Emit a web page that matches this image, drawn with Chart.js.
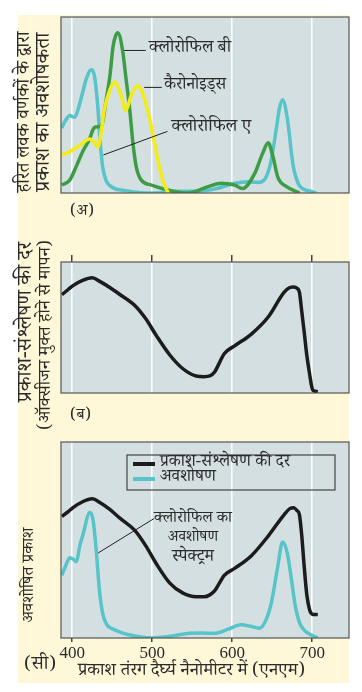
<!DOCTYPE html>
<html lang="hi">
<head>
<meta charset="utf-8">
<script src="https://cdn.jsdelivr.net/npm/chart.js@4.4.1/dist/chart.umd.min.js"></script>
<style>
  html, body { margin: 0; padding: 0; background: #fff; }
  #page { position: relative; width: 362px; height: 692px; overflow: hidden; }
  #paper { position: absolute; left: 18px; top: 15px; width: 331px; height: 668px; background: #fef8d8; }
  canvas { position: absolute; left: 0; }
</style>
</head>
<body>
<div id="page">
  <div id="paper"></div>
  <canvas id="chartA" width="362" height="230" style="top:0px"></canvas>
  <canvas id="chartB" width="362" height="200" style="top:230px"></canvas>
  <canvas id="chartC" width="362" height="262" style="top:430px"></canvas>
</div>
<script>
// wavelength ticks, nm
const tickNm = [400, 500, 600, 700];

// (अ) absorption by chloroplast pigments
const chlANm = [387, 392, 397, 403, 407, 413, 417, 424, 428, 432, 435, 438, 442, 451, 465, 480, 500, 530, 557, 580, 603, 620, 632, 641, 648, 655, 659, 663, 669, 676, 683, 690, 698, 705];
const chlAVal = [37, 41.5, 44, 43, 47, 57, 64, 70, 66, 49, 29, 15, 7.5, 3, 1.5, 0.5, 0, 1, 1, 2.5, 5.5, 6.4, 6, 8, 17, 36, 48, 53, 42, 16, 5, 2, 1, 0];

const chlBNm = [387, 397, 405, 413, 422, 426, 429, 436, 438, 442, 447, 451, 454, 457, 463, 467, 472, 476, 480, 486, 499, 520, 545, 570, 586, 603, 613, 628, 638, 645, 651, 657, 668, 684];
const chlBVal = [4.5, 7.4, 15, 23.5, 31, 36, 37.5, 38, 40, 51.6, 66, 83, 89, 91, 81, 66, 47, 28, 15, 7.5, 4.5, 1.7, 0, 3.6, 5.5, 4.5, 2.6, 11, 22.5, 28.5, 20.6, 9, 3.6, 0];

const carNm = [387, 397, 409, 422, 428, 432, 436, 440, 447, 453, 461, 467, 474, 482, 490, 497, 503, 507, 513, 520];
const carVal = [21.6, 23.5, 27, 30.7, 28.6, 26, 34, 47, 58.5, 63, 55.7, 47, 55.7, 61, 54, 41.5, 28, 19, 7.4, 0];

// (ब) rate of photosynthesis
const rateNm = [387, 395, 401, 413, 425, 435, 447, 460, 478, 492, 505, 522, 538, 555, 565, 572, 578, 584, 590, 603, 624, 645, 665, 672, 677, 681, 684, 687, 690, 693, 697, 699, 701, 707];
const rateVal = [75, 79, 82, 86, 88, 85, 80.5, 75, 67, 56.6, 44, 29, 18.7, 13, 12.5, 13, 16, 23, 30, 36, 45, 58, 77, 80.5, 81, 80, 77, 62, 46.5, 30, 13.6, 6, 2, 1];

// (सी) both together
const rate2Val = [62, 64.5, 66.5, 69.5, 71, 69, 65.6, 61, 55, 47, 38, 28, 23, 21, 21, 22, 24, 28, 32, 35.5, 42, 52, 63, 66, 66.5, 65, 63, 52, 36.5, 23, 14, 12.5, 12, 12];
const absNm = [387, 392, 397, 402, 405, 410, 413, 422, 426, 430, 434, 438, 443, 449, 460, 472, 501, 525, 547, 561, 578, 595, 611, 623, 634, 642, 649, 657, 663, 669, 674, 679, 684, 690, 695, 707];
const absVal = [32, 37, 41, 40, 39, 48, 52, 64, 60.5, 45, 24.6, 12.7, 7, 5, 3, 1.5, 0, 1, 2.4, 2.5, 2.4, 4.5, 6.7, 6, 5, 9, 18, 36.6, 49, 43, 30, 16, 8, 4, 2.4, 0];

const hindi = "'Noto Serif Devanagari', 'Noto Sans Devanagari', 'Lohit Devanagari', 'Noto Sans', serif";
const inkColor = "#2b2b2b";

function pts(xs, ys) {
  return xs.map(function (x, i) {
    return { x: x, y: ys[i] };
  });
}

function curve(label, xs, ys, color) {
  return {
    label: label,
    data: pts(xs, ys),
    borderColor: color,
    backgroundColor: color,
    borderWidth: 3.5,
    pointRadius: 0,
    cubicInterpolationMode: "monotone",
    fill: false,
  };
}

// pick a font size so the text runs the given width
function setFont(c, text, size, width) {
  c.font = size + "px " + hindi;
  if (width) {
    const fit = (size * width) / c.measureText(text).width;
    c.font = fit.toFixed(2) + "px " + hindi;
  }
}

// grey panel with dark frame
const panelPlugin = {
  id: "panel",
  beforeDraw(chart) {
    const a = chart.chartArea;
    const c = chart.ctx;
    c.save();
    c.fillStyle = "#d4dfe2";
    c.fillRect(a.left, a.top, a.right - a.left, a.bottom - a.top);
    c.restore();
  },
  afterDraw(chart) {
    const a = chart.chartArea;
    const c = chart.ctx;
    c.save();
    c.strokeStyle = "#555";
    c.lineWidth = 1.2;
    c.strokeRect(a.left, a.top, a.right - a.left, a.bottom - a.top);
    c.restore();
  },
};

// labels, leader lines, axis titles and legend box
function notesPlugin(notes) {
  return {
    id: "notes",
    afterDraw(chart) {
      const c = chart.ctx;
      const sx = chart.scales.x;
      const sy = chart.scales.y;
      const a = chart.chartArea;
      c.save();
      c.fillStyle = inkColor;
      c.strokeStyle = "#222";
      c.lineWidth = 1;
      (notes.lines || []).forEach(function (l) {
        c.beginPath();
        c.moveTo(sx.getPixelForValue(l[0]), sy.getPixelForValue(l[1]));
        c.lineTo(sx.getPixelForValue(l[2]), sy.getPixelForValue(l[3]));
        c.stroke();
      });
      c.textBaseline = "middle";
      (notes.texts || []).forEach(function (t) {
        setFont(c, t.text, t.size || 16, t.w);
        let x = t.px ? t.x : sx.getPixelForValue(t.x);
        let y = t.px ? t.y : sy.getPixelForValue(t.y);
        if (t.rot) {
          c.save();
          c.translate(x, y);
          c.rotate(-Math.PI / 2);
          c.textAlign = "center";
          c.fillText(t.text, 0, 0);
          c.restore();
        } else {
          c.textAlign = t.align || "left";
          c.fillText(t.text, x, y);
        }
      });
      if (notes.legend) {
        const L = notes.legend;
        const bx = a.left + L.left;
        const by = a.top + L.top;
        c.strokeStyle = "#444";
        c.lineWidth = 1.2;
        c.strokeRect(bx, by, L.width, L.height);
        const ds = chart.data.datasets;
        setFont(c, ds[0].label, 16, L.textWidth);
        c.textAlign = "left";
        ds.forEach(function (d, i) {
          const yy = by + 9 + i * 15;
          c.strokeStyle = d.borderColor;
          c.lineWidth = 4;
          c.beginPath();
          c.moveTo(bx + 6, yy);
          c.lineTo(bx + 28, yy);
          c.stroke();
          c.fillStyle = inkColor;
          c.fillText(d.label, bx + 33, yy);
        });
      }
      c.restore();
    },
  };
}

function xScale(position, height, showLabels) {
  return {
    type: "linear",
    position: position,
    min: 386,
    max: 746,
    afterBuildTicks: function (axis) {
      axis.ticks = tickNm.map(function (v) {
        return { value: v };
      });
    },
    afterFit: function (axis) {
      axis.height = height;
    },
    border: { display: false },
    grid: {
      color: "#ffffff",
      lineWidth: 1.5,
      drawTicks: height > 0,
      tickLength: showLabels ? 4 : height,
      tickColor: "#444",
    },
    ticks: {
      display: showLabels,
      padding: 1,
      color: inkColor,
      font: { family: "'Liberation Serif', serif", size: 17 },
    },
  };
}

const yScale = { type: "linear", min: 0, max: 100, display: false };

function drawPanel(id, datasets, xs, padding, notes) {
  const ctx = document.getElementById(id).getContext("2d");
  return new Chart(ctx, {
    type: "line",
    data: { datasets: datasets },
    options: {
      responsive: false,
      animation: false,
      layout: { padding: padding },
      plugins: { legend: { display: false }, tooltip: { enabled: false } },
      scales: { x: xs, y: yScale },
    },
    plugins: [panelPlugin, notesPlugin(notes)],
  });
}

drawPanel(
  "chartA",
  [
    curve("कैरोनोइड्स", carNm, carVal, "#f3ec16"),
    curve("क्लोरोफिल बी", chlBNm, chlBVal, "#3d9c46"),
    curve("क्लोरोफिल ए", chlANm, chlAVal, "#56c4c8"),
  ],
  xScale("bottom", 0, false),
  { left: 61, right: 13, top: 17, bottom: 37 },
  {
    lines: [
      [465, 81, 492, 81],
      [490, 60, 512, 60],
      [439, 21.6, 519, 35],
    ],
    texts: [
      { text: "क्लोरोफिल बी", x: 496, y: 81, w: 82 },
      { text: "कैरोनोइड्स", x: 515, y: 60, w: 62 },
      { text: "क्लोरोफिल ए", x: 524, y: 36, w: 80 },
      { text: "(अ)", x: 70, y: 213, px: true },
      { text: "हरित लवक वर्णकों के द्वारा", x: 27, y: 112, px: true, rot: true, w: 161 },
      { text: "प्रकाश का अवशोषकता", x: 47, y: 112, px: true, rot: true, w: 159 },
    ],
  }
);

drawPanel(
  "chartB",
  [curve("प्रकाश-संश्लेषण की दर", rateNm, rateVal, "#1c1c1c")],
  xScale("top", 7, false),
  { left: 61, right: 13, top: 25, bottom: 37 },
  {
    texts: [
      { text: "(ब)", x: 70, y: 187, px: true },
      { text: "प्रकाश-संश्लेषण की दर", x: 29, y: 92, px: true, rot: true, w: 160 },
      { text: "(ऑक्सीजन मुक्त होने से मापन)", x: 48, y: 105, px: true, rot: true, w: 190 },
    ],
  }
);

drawPanel(
  "chartC",
  [
    curve("प्रकाश-संश्लेषण की दर", rateNm, rate2Val, "#1c1c1c"),
    curve("अवशोषण", absNm, absVal, "#56c4c8"),
  ],
  xScale("bottom", 54, true),
  { left: 61, right: 13, top: 12, bottom: 0 },
  {
    lines: [[432.5, 43.4, 502.5, 61]],
    texts: [
      { text: "क्लोरोफिल का", x: 551, y: 60, align: "center", w: 78 },
      { text: "अवशोषण", x: 551, y: 50, align: "center", w: 50 },
      { text: "स्पेक्ट्रम", x: 551, y: 40, align: "center", w: 42 },
      { text: "(सी)", x: 24, y: 237, px: true, w: 32 },
      { text: "प्रकाश तंरग दैर्घ्य नैनोमीटर में (एनएम)", x: 78, y: 243, px: true, w: 227 },
      { text: "अवशोषित प्रकाश", x: 31, y: 145, px: true, rot: true, w: 95 },
    ],
    legend: { left: 66, top: 13, width: 208, height: 35, textWidth: 130 },
  }
);
</script>
</body>
</html>
